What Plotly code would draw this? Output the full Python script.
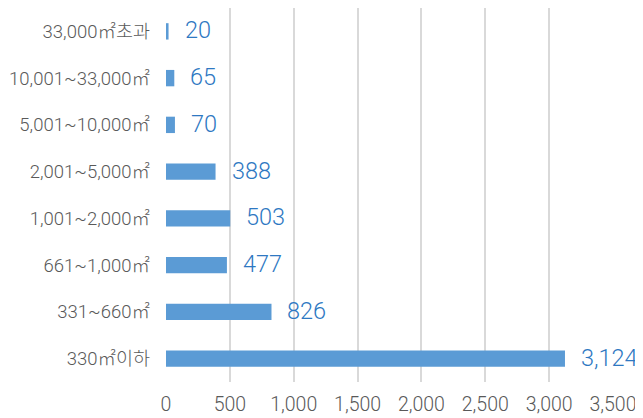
import plotly.graph_objects as go

categories = ["330㎡이하", "331~660㎡", "661~1,000㎡", "1,001~2,000㎡",
              "2,001~5,000㎡", "5,001~10,000㎡", "10,001~33,000㎡", "33,000㎡초과"]
values = [3124, 826, 477, 503, 388, 70, 65, 20]
x_ticks = [0, 500, 1000, 1500, 2000, 2500, 3000, 3500]

font = "Roboto, Noto Sans CJK KR"
fig = go.Figure()
fig.add_trace(go.Bar(
    y=categories, x=values, orientation="h",
    marker=dict(color="#5B9BD5", line=dict(color="#5B9BD5", width=0)),
    width=0.35,
))
for c, v in zip(categories, values):
    fig.add_annotation(x=v, y=c, text=f"{v:,}", showarrow=False,
                       xanchor="left", xshift=14, yshift=1,
                       font=dict(family=font, size=23.5, color="#2E78C2", weight=300))

# page body has an 8px default margin; compensate in figure size/margins
fig.update_layout(
    width=635, height=410,
    margin=dict(l=158, r=30, t=0, b=36),
    plot_bgcolor="white", paper_bgcolor="white",
    showlegend=False,
    xaxis=dict(range=[0, 3500], tickvals=x_ticks,
               ticktext=[f"{t:,}" for t in x_ticks],
               showgrid=True, gridcolor="#D9D9D9", gridwidth=2,
               zeroline=False, showline=False,
               tickfont=dict(family=font, size=19.5, color="#595959", weight=300),
               ticklabelstandoff=8),
    yaxis=dict(categoryorder="array", categoryarray=categories,
               showgrid=False, zeroline=False, showline=False,
               tickfont=dict(family=font, size=18.5, color="#595959", weight=300),
               ticklabelstandoff=15),
)
fig.write_html("out.html")
